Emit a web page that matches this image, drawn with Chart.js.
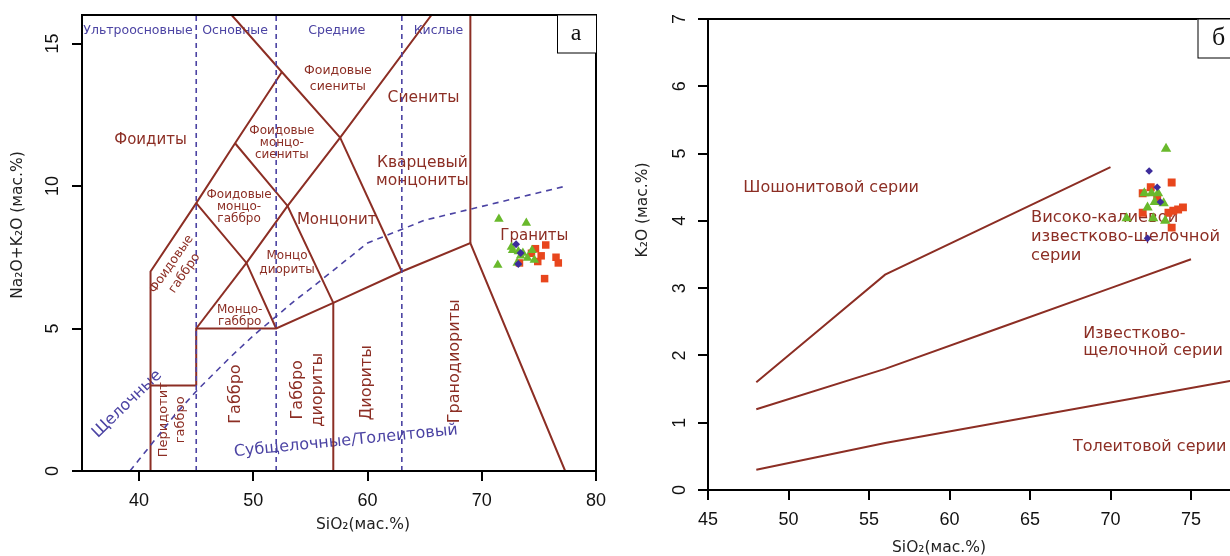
<!DOCTYPE html>
<html>
<head>
<meta charset="utf-8">
<script src="https://cdn.jsdelivr.net/npm/chart.js@4.4.1/dist/chart.umd.min.js"></script>
<style>
  html, body { margin: 0; padding: 0; width: 1230px; height: 556px; overflow: hidden; background: #fff; }
  #boxA { position: absolute; left: 0; top: 0; width: 620px; height: 556px; }
  #boxB { position: absolute; left: 620px; top: 0; width: 680px; height: 556px; }
</style>
</head>
<body>
<div id="boxA"><canvas id="tasChart"></canvas></div>
<div id="boxB"><canvas id="kChart"></canvas></div>

<script>
// ---- panel a: TAS diagram (SiO2 vs Na2O+K2O) ----
const tasXTicks = [40, 50, 60, 70, 80];
const tasYTicks = [0, 5, 10, 15];

// field boundaries [SiO2, Na2O+K2O]
const tasLine1 = [[41, 0], [41, 7], [45, 9.4], [48.4, 11.5], [52.5, 14]];
const tasLine2 = [[48.1, 16], [52.5, 14], [57.6, 11.7]];
const tasLine3 = [[45, 9.4], [49.4, 7.3], [52, 5]];
const tasLine4 = [[45, 5], [49.4, 7.3]];
const tasLine5 = [[48.4, 11.5], [53, 9.3], [57, 5.9]];
const tasLine6 = [[49.4, 7.3], [53, 9.3], [57.6, 11.7], [65.6, 16]];
const tasLine7 = [[57.6, 11.7], [63, 7]];
const tasLine8 = [[41, 3], [45, 3]];
const tasLine9 = [[45, 3], [45, 5], [52, 5], [57, 5.9], [63, 7], [69, 8], [77.3, 0]];
const tasLine10 = [[57, 0], [57, 5.9]];
const tasLine11 = [[69, 8], [69, 16]];

// dashed blue: silica divisions and alkaline / subalkaline curve
const tasSilica1 = [[45, 0], [45, 16]];
const tasSilica2 = [[52, 0], [52, 16]];
const tasSilica3 = [[63, 0], [63, 16]];
const tasAlkCurve = [[39.2, 0], [40, 0.4], [43.2, 2], [45, 2.8], [48, 4], [50, 4.75],
                     [53.7, 6], [55, 6.4], [60, 8], [65, 8.8], [77.4, 10]];

// samples
const tasRedSi  = [75.6, 74.7, 75.2, 74.9, 76.5, 76.7, 75.5, 73.3, 74.35];
const tasRedAlk = [7.93, 7.8, 7.55, 7.35, 7.5, 7.3, 6.75, 7.3, 7.64];
const tasGreenSi  = [71.5, 73.9, 71.4, 72.7, 73.2, 73.6, 74.0, 74.6, 73.1, 74.4, 72.6, 73.4];
const tasGreenAlk = [8.84, 8.7, 7.23, 7.75, 7.7, 7.65, 7.47, 7.4, 7.3, 7.75, 7.86, 7.55];
const tasBlueSi  = [73.0, 73.4, 73.2];
const tasBlueAlk = [7.96, 7.65, 7.26];

// ---- panel б: SiO2 vs K2O ----
const kXTicks = [45, 50, 55, 60, 65, 70, 75, 80];
const kYTicks = [0, 1, 2, 3, 4, 5, 6, 7];

const kLineShosh = [[48, 1.6], [52, 2.4], [56, 3.2], [63, 4.0], [70, 4.8]];
const kLineHighK = [[48, 1.2], [56, 1.8], [63, 2.4], [70, 3.0], [75, 3.43]];
const kLineThol  = [[48, 0.3], [56, 0.7], [63, 1.0], [70, 1.3], [80, 1.73]];

const kRedSi = [73.8, 72.5, 72.0, 72.9, 74.5, 74.2, 73.9, 73.6, 72.0, 73.8];
const kRedK  = [4.57, 4.5, 4.41, 4.32, 4.2, 4.17, 4.15, 4.12, 4.12, 3.9];
const kGreenSi = [73.45, 72.1, 72.55, 72.95, 72.75, 73.3, 72.3, 71.0, 72.65, 73.4];
const kGreenK  = [5.07, 4.41, 4.41, 4.41, 4.28, 4.26, 4.2, 4.04, 4.04, 4.0];
const kBlueSi = [72.4, 72.9, 73.1, 72.3];
const kBlueK  = [4.74, 4.5, 4.28, 3.74];

const BROWN = '#8c2e24';
const BLUE = '#4b43a3';
const RED = '#e8461d';
const GREEN = '#69b92c';
const VIOLET = '#3d2c9b';
const LBL = "'DejaVu Sans', Verdana, sans-serif";
const NUM = "'Liberation Sans', Arial, sans-serif";

function lineSet(pts, color, dash) {
  return {
    data: pts.map(p => ({ x: p[0], y: p[1] })),
    showLine: true, borderColor: color, borderWidth: dash ? 1.6 : 2,
    borderDash: dash || [], pointRadius: 0, tension: 0, order: 2
  };
}
function pointSet(xs, ys, color, style, r) {
  return {
    data: xs.map((x, i) => ({ x: x, y: ys[i] })),
    showLine: false, backgroundColor: color, borderColor: color, borderWidth: 0,
    pointStyle: style, pointRadius: r, order: 0
  };
}

function drawText(ctx, text, px, py, o) {
  ctx.save();
  ctx.translate(px, py);
  ctx.rotate((o.rot || 0) * Math.PI / 180);
  ctx.font = o.font;
  ctx.fillStyle = o.color;
  ctx.textAlign = o.align || 'center';
  ctx.textBaseline = 'middle';
  const lines = text.split('\n');
  const lh = o.lh || 16;
  lines.forEach((t, i) => ctx.fillText(t, 0, (i - (lines.length - 1) / 2) * lh));
  ctx.restore();
}

// labels in data coordinates
const tasLabels = [
  { t: 'Ультроосновные', x: 39.9, y: 15.45, font: '12.5px ' + LBL, color: BLUE },
  { t: 'Основные', x: 48.4, y: 15.45, font: '12.5px ' + LBL, color: BLUE },
  { t: 'Средние', x: 57.3, y: 15.45, font: '12.5px ' + LBL, color: BLUE },
  { t: 'Кислые', x: 66.2, y: 15.45, font: '12.5px ' + LBL, color: BLUE },
  { t: 'Фоидиты', x: 41.0, y: 11.6, font: '15px ' + LBL, color: BROWN },
  { t: 'Фоидовые\nсиениты', x: 57.4, y: 13.75, font: '12.5px ' + LBL, color: BROWN, lh: 16 },
  { t: 'Сиениты', x: 64.9, y: 13.1, font: '15.5px ' + LBL, color: BROWN },
  { t: 'Фоидовые\nмонцо-\nсиениты', x: 52.5, y: 11.5, font: '12px ' + LBL, color: BROWN, lh: 12 },
  { t: 'Кварцевый\nмонцониты', x: 64.8, y: 10.5, font: '15.5px ' + LBL, color: BROWN, lh: 18 },
  { t: 'Фоидовые\nмонцо-\nгаббро', x: 48.75, y: 9.26, font: '12px ' + LBL, color: BROWN, lh: 12 },
  { t: 'Монцонит', x: 57.3, y: 8.8, font: '15px ' + LBL, color: BROWN },
  { t: 'Фоидовые\nгаббро', x: 43.4, y: 7.1, font: '12.5px ' + LBL, color: BROWN, lh: 16, rot: -55 },
  { t: 'Монцо\nдиориты', x: 52.95, y: 7.3, font: '12px ' + LBL, color: BROWN, lh: 14 },
  { t: 'Монцо-\nгаббро', x: 48.8, y: 5.45, font: '12px ' + LBL, color: BROWN, lh: 11.5 },
  { t: 'Граниты', x: 74.6, y: 8.25, font: '15px ' + LBL, color: BROWN },
  { t: 'Перидотит\nгаббро', x: 42.85, y: 1.8, font: '13px ' + LBL, color: BROWN, lh: 17, rot: -90 },
  { t: 'Габбро', x: 48.5, y: 2.7, font: '16px ' + LBL, color: BROWN, rot: -90 },
  { t: 'Габбро\nдиориты', x: 54.8, y: 2.85, font: '16px ' + LBL, color: BROWN, lh: 20, rot: -90 },
  { t: 'Диориты', x: 59.95, y: 3.1, font: '16px ' + LBL, color: BROWN, rot: -90 },
  { t: 'Гранодиориты', x: 67.65, y: 3.85, font: '16px ' + LBL, color: BROWN, rot: -90 },
  { t: 'Щелочные', x: 38.95, y: 2.35, font: '16px ' + LBL, color: BLUE, rot: -44 },
  { t: 'Субщелочные/Толеитовый', x: 58.1, y: 1.05, font: '16px ' + LBL, color: BLUE, rot: -5.6 }
];

const kLabels = [
  { t: 'Шошонитовой серии', x: 52.65, y: 4.49, font: '16px ' + LBL, color: BROWN },
  { t: 'Високо-калиевой\nизвестково-щелочной\nсерии', x: 65.06, y: 3.76, font: '16.3px ' + LBL, color: BROWN, lh: 19, align: 'left' },
  { t: 'Известково-\nщелочной серии', x: 68.3, y: 2.2, font: '16px ' + LBL, color: BROWN, lh: 17, align: 'left' },
  { t: 'Толеитовой серии', x: 67.67, y: 0.64, font: '16px ' + LBL, color: BROWN, align: 'left' }
];

function makeDecor(cfg) {
  return {
    id: 'decor',
    beforeDatasetsDraw(chart) {
      const { ctx, scales: { x, y } } = chart;
      cfg.labels.forEach(l => drawText(ctx, l.t, x.getPixelForValue(l.x), y.getPixelForValue(l.y), l));
    },
    afterDraw(chart) {
      const { ctx, chartArea: a, scales: { y } } = chart;
      ctx.save();
      ctx.strokeStyle = '#000';
      ctx.lineWidth = 2;
      ctx.strokeRect(a.left, a.top, a.right - a.left, a.bottom - a.top);
      // panel letter box
      ctx.fillStyle = '#fff';
      ctx.lineWidth = 1;
      ctx.fillRect(a.right - cfg.box.w, a.top, cfg.box.w, cfg.box.h);
      ctx.strokeRect(a.right - cfg.box.w + 0.5, a.top, cfg.box.w, cfg.box.h);
      ctx.restore();
      drawText(ctx, cfg.letter, a.right - cfg.box.w + cfg.box.tx, a.top + cfg.box.h / 2,
               { font: cfg.box.font, color: '#111' });
      // rotated y tick labels
      cfg.yTicks.forEach(v => drawText(ctx, String(v), a.left - cfg.yLabOff, y.getPixelForValue(v),
               { font: '18px ' + NUM, color: '#111', rot: -90 }));
      // axis titles
      drawText(ctx, cfg.yTitle, cfg.yTitlePos[0], cfg.yTitlePos[1],
               { font: '15.5px ' + LBL, color: '#222', rot: -90 });
      drawText(ctx, cfg.xTitle, cfg.xTitlePos[0], cfg.xTitlePos[1],
               { font: '15.5px ' + LBL, color: '#222' });
    }
  };
}

function axisOpts(min, max, ticks, fitKey, fitVal, showLabels) {
  return {
    type: 'linear', min: min, max: max,
    afterBuildTicks: s => { s.ticks = ticks.map(v => ({ value: v })); },
    afterFit: s => { s[fitKey] = fitVal; },
    grid: { display: true, drawOnChartArea: false, drawTicks: true, tickLength: 10, color: '#000', lineWidth: 2 },
    border: { display: true, color: '#000', width: 2 },
    ticks: { display: showLabels, autoSkip: false, maxRotation: 0, padding: 9, color: '#111',
             font: { family: NUM, size: 18 } }
  };
}

function baseOptions(xs, ys, pad) {
  return {
    responsive: true, maintainAspectRatio: false, animation: false, events: [],
    layout: { padding: pad },
    plugins: { legend: { display: false }, tooltip: { enabled: false } },
    scales: { x: xs, y: ys }
  };
}

new Chart('tasChart', {
  type: 'scatter',
  data: {
    datasets: [
      pointSet(tasBlueSi, tasBlueAlk, VIOLET, 'rectRot', 4),
      pointSet(tasGreenSi, tasGreenAlk, GREEN, 'triangle', 5.5),
      pointSet(tasRedSi, tasRedAlk, RED, 'rect', 5.3),
      lineSet(tasSilica1, BLUE, [5, 4]),
      lineSet(tasSilica2, BLUE, [5, 4]),
      lineSet(tasSilica3, BLUE, [5, 4]),
      lineSet(tasAlkCurve, BLUE, [6, 5]),
      lineSet(tasLine1, BROWN), lineSet(tasLine2, BROWN), lineSet(tasLine3, BROWN),
      lineSet(tasLine4, BROWN), lineSet(tasLine5, BROWN), lineSet(tasLine6, BROWN),
      lineSet(tasLine7, BROWN), lineSet(tasLine8, BROWN), lineSet(tasLine9, BROWN),
      lineSet(tasLine10, BROWN), lineSet(tasLine11, BROWN)
    ]
  },
  options: baseOptions(
    axisOpts(35, 80, tasXTicks, 'height', 85, true),
    axisOpts(0, 16, tasYTicks, 'width', 82, false),
    { left: 0, right: 24, top: 15, bottom: 0 }),
  plugins: [makeDecor({
    labels: tasLabels, letter: 'а', yTicks: tasYTicks, yLabOff: 29,
    box: { w: 39, h: 38, tx: 19, font: "24px 'Liberation Serif', serif" },
    yTitle: 'Na₂O+K₂O (мас.%)', yTitlePos: [18, 225],
    xTitle: 'SiO₂(мас.%)', xTitlePos: [363, 525]
  })]
});

new Chart('kChart', {
  type: 'scatter',
  data: {
    datasets: [
      pointSet(kBlueSi, kBlueK, VIOLET, 'rectRot', 3.8),
      pointSet(kGreenSi, kGreenK, GREEN, 'triangle', 6),
      pointSet(kRedSi, kRedK, RED, 'rect', 5.6),
      lineSet(kLineShosh, BROWN), lineSet(kLineHighK, BROWN), lineSet(kLineThol, BROWN)
    ]
  },
  options: baseOptions(
    axisOpts(45, 80, kXTicks, 'height', 66, true),
    axisOpts(0, 7, kYTicks, 'width', 88, false),
    { left: 0, right: 28.5, top: 19, bottom: 0 }),
  plugins: [makeDecor({
    labels: kLabels, letter: 'б', yTicks: kYTicks, yLabOff: 28,
    box: { w: 74, h: 39, tx: 21, font: "26px 'Liberation Serif', serif" },
    yTitle: 'K₂O (мас.%)', yTitlePos: [23, 210],
    xTitle: 'SiO₂(мас.%)', xTitlePos: [319, 548]
  })]
});
</script>
</body>
</html>
